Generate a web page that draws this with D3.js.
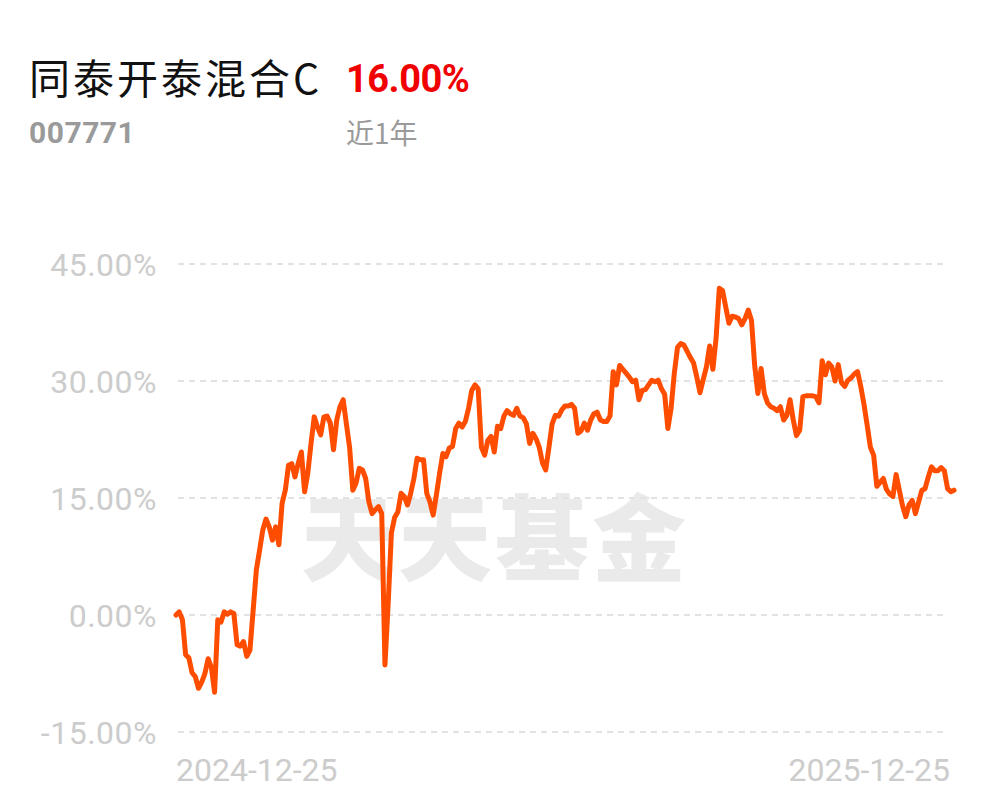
<!DOCTYPE html>
<html>
<head>
<meta charset="utf-8">
<script src="https://cdn.jsdelivr.net/npm/d3@7"></script>
<style>
  body { margin: 0; background: #fff; }
  svg { display: block; }
</style>
</head>
<body>
<div id="root"></div>
<script>
// fund info
const fundName = "同泰开泰混合C"
const fundCode = "007771"
const periodReturn = "16.00%"
const periodLabel = "近1年"
const watermark = "天天基金"

// y ticks and x end labels
const yTicks = [45, 30, 15, 0, -15]
const xLabels = ["2024-12-25", "2025-12-25"]

// cumulative return (%) per trading day
const returns = [
  0.0, 0.4, -0.6, -5.1, -5.5, -7.4, -7.9, -9.4, -8.6, -7.5,
  -5.6, -6.7, -9.9, -0.6, -0.9, 0.4, 0.1, 0.4, 0.2, -3.8,
  -4.0, -3.4, -5.3, -4.5, 0.6, 5.8, 8.3, 10.9, 12.3, 11.3,
  9.6, 11.3, 9.0, 14.3, 16.0, 19.2, 19.4, 17.7, 19.4, 20.9,
  15.8, 18.2, 22.0, 25.4, 24.1, 23.1, 25.4, 25.5, 24.6, 21.2,
  25.0, 26.7, 27.6, 24.5, 21.5, 16.0, 16.9, 18.8, 18.6, 17.5,
  14.5, 13.0, 13.5, 13.9, 13.0, -6.4, 1.5, 10.5, 12.5, 13.2,
  15.6, 15.2, 14.1, 15.6, 17.5, 20.1, 19.9, 19.9, 15.6, 14.5,
  12.8, 15.4, 18.2, 20.7, 20.3, 21.4, 21.6, 23.9, 24.6, 24.1,
  24.8, 26.5, 28.8, 29.5, 29.0, 21.5, 20.5, 22.4, 22.9, 20.9,
  24.2, 23.9, 25.5, 26.2, 25.8, 25.6, 26.5, 25.5, 25.3, 24.5,
  22.0, 23.3, 22.6, 21.5, 19.5, 18.6, 21.5, 24.5, 25.6, 25.5,
  26.3, 26.8, 26.8, 27.0, 26.5, 23.3, 23.6, 24.6, 23.7, 25.0,
  25.8, 26.0, 25.0, 24.8, 24.8, 25.5, 31.2, 29.5, 32.0, 31.5,
  31.0, 30.5, 29.9, 30.1, 27.6, 28.8, 28.9, 29.5, 30.1, 29.9,
  30.1, 29.0, 28.3, 23.9, 26.5, 31.0, 34.3, 34.8, 34.6, 33.8,
  33.0, 32.3, 30.5, 28.5, 30.2, 31.8, 34.5, 31.5, 35.5, 41.9,
  41.6, 39.5, 37.4, 38.3, 38.2, 38.0, 37.2, 38.0, 39.1, 37.8,
  32.0, 28.4, 31.6, 28.4, 27.2, 26.7, 26.5, 26.2, 26.7, 25.0,
  25.6, 27.6, 25.0, 23.0, 23.7, 28.0, 28.1, 28.1, 28.1, 28.0,
  27.2, 32.6, 30.8, 32.3, 31.8, 30.0, 32.1, 29.8, 29.3, 30.1,
  30.4, 30.9, 31.2, 29.3, 27.0, 24.3, 21.5, 20.5, 16.5, 17.0,
  17.5, 16.1, 15.5, 15.2, 18.0, 16.0, 14.0, 12.6, 14.1, 14.7,
  13.0, 14.5, 16.0, 16.2, 17.7, 19.0, 18.5, 18.5, 18.9, 18.5,
  16.2, 15.8, 16.0
]

const width = 997
const height = 802
const font = "Roboto, 'Noto Sans CJK SC', sans-serif"

const svg = d3.select("#root").append("svg")
  .attr("width", width)
  .attr("height", height)

// header
svg.append("text")
  .attr("x", 29).attr("y", 94)
  .attr("font-family", "'Noto Sans CJK SC', sans-serif")
  .attr("font-size", 41)
  .attr("letter-spacing", 3)
  .attr("fill", "#111")
  .text(fundName)

svg.append("text")
  .attr("x", 346).attr("y", 92)
  .attr("font-family", font)
  .attr("font-weight", "bold")
  .attr("font-size", 38)
  .attr("letter-spacing", -0.5)
  .attr("fill", "#f00000")
  .text(periodReturn)

svg.append("text")
  .attr("x", 29).attr("y", 143)
  .attr("font-family", font)
  .attr("font-weight", "bold")
  .attr("font-size", 30)
  .attr("letter-spacing", 0.5)
  .attr("fill", "#9a9a9a")
  .text(fundCode)

svg.append("text")
  .attr("x", 346).attr("y", 144)
  .attr("font-family", "'Noto Sans CJK SC', sans-serif")
  .attr("font-size", 28)
  .attr("fill", "#9a9a9a")
  .text(periodLabel)

// scales
const x = d3.scaleLinear().domain([0, returns.length - 1]).range([176, 954])
const y = d3.scaleLinear().domain([-15, 45]).range([732, 264])

// watermark behind everything
svg.append("text")
  .attr("x", 495).attr("y", 574)
  .attr("text-anchor", "middle")
  .attr("font-family", "'Noto Sans CJK SC', sans-serif")
  .attr("font-weight", 900)
  .attr("font-size", 94)
  .attr("letter-spacing", 3)
  .attr("fill", "#eaeaea")
  .text(watermark)

// grid
svg.append("g").selectAll("line")
  .data(yTicks)
  .join("line")
  .attr("x1", 178).attr("x2", 948)
  .attr("y1", d => y(d)).attr("y2", d => y(d))
  .attr("stroke", "#e2e2e2")
  .attr("stroke-width", 2)
  .attr("stroke-dasharray", "6,5")

svg.append("g").selectAll("text")
  .data(yTicks)
  .join("text")
  .attr("x", 157)
  .attr("y", d => y(d))
  .attr("dy", "0.36em")
  .attr("text-anchor", "end")
  .attr("font-family", font)
  .attr("font-size", 32)
  .attr("letter-spacing", 0.5)
  .attr("fill", "#cccccc")
  .text(d => d.toFixed(2) + "%")

// x end labels
svg.append("text")
  .attr("x", 176).attr("y", 781)
  .attr("font-family", font)
  .attr("font-size", 32)
  .attr("fill", "#cccccc")
  .text(xLabels[0])

svg.append("text")
  .attr("x", 950).attr("y", 781)
  .attr("text-anchor", "end")
  .attr("font-family", font)
  .attr("font-size", 32)
  .attr("fill", "#cccccc")
  .text(xLabels[1])

// the line
const line = d3.line()
  .x((d, i) => x(i))
  .y(d => y(d))

svg.append("path")
  .datum(returns)
  .attr("d", line)
  .attr("fill", "none")
  .attr("stroke", "#ff4d00")
  .attr("stroke-width", 5)
  .attr("stroke-linejoin", "round")
  .attr("stroke-linecap", "round")
</script>
</body>
</html>
